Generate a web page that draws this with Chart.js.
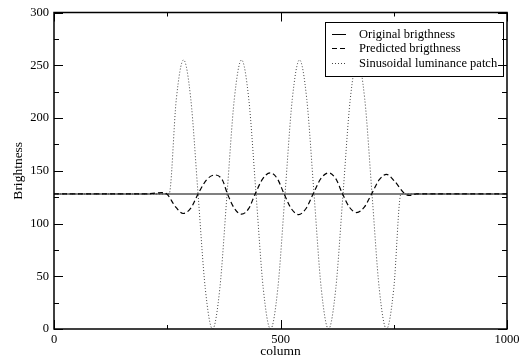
<!DOCTYPE html>
<html>
<head>
<meta charset="utf-8">
<script src="https://cdn.jsdelivr.net/npm/chart.js@4.4.0/dist/chart.umd.min.js"></script>
<style>
  html, body { margin: 0; padding: 0; background: #fff; }
  #wrap { width: 523px; height: 363px; }
</style>
</head>
<body>
<div id="wrap"><canvas id="myChart" width="523" height="363"></canvas></div>
<script>
// brightness along one image row
var origCols = [0, 1000];
var origVals = [128, 128];

var predCols = [0, 200, 225, 238, 249, 268, 285, 302, 318, 338, 356, 372, 383, 398, 414, 430, 444,
  461, 477, 493, 508, 524, 540, 556, 572, 589, 606, 622, 637, 652, 668, 685, 701, 718, 734, 752,
  775, 786, 800, 1000];
var predVals = [128, 128, 128.8, 129.3, 128, 116, 109.5, 114.5, 128, 142, 146, 141, 128, 114.5, 108.8, 114.3, 128,
  142.5, 148, 142.5, 128, 114, 108.5, 114, 128, 142.5, 148, 142.5, 128, 115.5, 110.4, 115.5, 128, 141.5, 146.6, 140,
  128, 126.6, 128, 128];

var patchCols = [0, 254, 270, 286, 302, 318, 334, 350, 366, 382, 398, 414, 430, 446, 462, 478, 494,
  510, 526, 542, 558, 574, 590, 606, 622, 638, 654, 670, 686, 702, 718, 734, 750, 766, 1000];
var patchVals = [128, 128, 217.8, 255, 217.8, 128, 38.2, 0, 38.2, 128, 217.8, 255, 217.8, 128, 38.2, 0, 38.2,
  128, 217.8, 255, 217.8, 128, 38.2, 0, 38.2, 128, 217.8, 255, 217.8, 128, 38.2, 0, 38.2, 128, 128];

var labels = ["Original brigthness", "Predicted brigthness", "Sinusoidal luminance patch"];

var serif = "'Liberation Serif', 'DejaVu Serif', serif";

function pts(xs, ys) {
  var out = [];
  for (var i = 0; i < xs.length; i++) out.push({ x: xs[i], y: ys[i] });
  return out;
}

// frame + inward ticks on all four sides
var frameTicks = {
  id: "frameTicks",
  afterDraw: function (chart) {
    var ctx = chart.ctx;
    var a = chart.chartArea;
    var xs = chart.scales.x, ys = chart.scales.y;
    ctx.save();
    ctx.strokeStyle = "#000";
    ctx.lineWidth = 1.5;
    ctx.strokeRect(a.left, a.top, a.right - a.left, a.bottom - a.top);
    ctx.lineWidth = 1;
    ctx.beginPath();
    for (var v = 0; v <= 1000; v += 250) {
      var len = v % 500 === 0 ? 9 : 4;
      var px = Math.round(xs.getPixelForValue(v)) + 0.5;
      ctx.moveTo(px, a.bottom); ctx.lineTo(px, a.bottom - len);
      ctx.moveTo(px, a.top); ctx.lineTo(px, a.top + len);
    }
    for (var w = 0; w <= 300; w += 25) {
      var l2 = w % 50 === 0 ? 9 : 5;
      var py = Math.round(ys.getPixelForValue(w)) + 0.5;
      ctx.moveTo(a.left, py); ctx.lineTo(a.left + l2, py);
      ctx.moveTo(a.right, py); ctx.lineTo(a.right - l2, py);
    }
    ctx.stroke();
    ctx.restore();
  }
};

// boxed legend in the upper right of the plot
var boxLegend = {
  id: "boxLegend",
  afterDatasetsDraw: function (chart) {
    var ctx = chart.ctx;
    var bx = 325, by = 22, bw = 178, bh = 54;
    ctx.save();
    ctx.fillStyle = "#fff";
    ctx.fillRect(bx, by, bw, bh);
    ctx.strokeStyle = "#000";
    ctx.lineWidth = 1;
    ctx.strokeRect(bx + 0.5, by + 0.5, bw, bh);
    ctx.font = "12.5px " + serif;
    ctx.textBaseline = "middle";
    chart.data.datasets.forEach(function (ds, i) {
      var y = Math.round(by + 11.5 + i * 14.5) + 0.5;
      ctx.beginPath();
      ctx.strokeStyle = ds.legendColor || ds.borderColor;
      ctx.lineWidth = 1;
      ctx.setLineDash(ds.borderDash || []);
      ctx.moveTo(332, y); ctx.lineTo(346, y);
      ctx.stroke();
      ctx.setLineDash([]);
      ctx.fillStyle = "#000";
      ctx.fillText(ds.label, 359, y);
    });
    ctx.restore();
  }
};

new Chart(document.getElementById("myChart").getContext("2d"), {
  type: "line",
  data: {
    datasets: [
      {
        label: labels[0],
        data: pts(origCols, origVals),
        borderColor: "#808080",
        legendColor: "#000",
        borderWidth: 2,
        order: 3
      },
      {
        label: labels[1],
        data: pts(predCols, predVals),
        borderColor: "#000",
        borderWidth: 1.2,
        borderDash: [5, 3],
        cubicInterpolationMode: "monotone",
        order: 1
      },
      {
        label: labels[2],
        data: pts(patchCols, patchVals),
        borderColor: "#444",
        borderWidth: 1,
        borderDash: [1, 2],
        cubicInterpolationMode: "monotone",
        order: 2
      }
    ]
  },
  options: {
    responsive: false,
    animation: false,
    events: [],
    elements: { point: { radius: 0 } },
    layout: { padding: { top: 12, right: 16, left: 0, bottom: 0 } },
    plugins: { legend: { display: false }, tooltip: { enabled: false } },
    scales: {
      x: {
        type: "linear",
        min: 0,
        max: 1000,
        grid: { display: false, drawTicks: false },
        border: { display: false },
        ticks: {
          stepSize: 500, padding: 3, color: "#000", font: { family: serif, size: 12.5 }, maxRotation: 0,
          callback: function (v) { return String(v); }
        },
        title: { display: true, text: "column", color: "#000", font: { family: serif, size: 13.5 }, padding: { top: 0, bottom: 3 } },
        afterFit: function (s) { s.height = 34; }
      },
      y: {
        min: 0,
        max: 300,
        grid: { display: false, drawTicks: false },
        border: { display: false },
        ticks: { stepSize: 50, padding: 5, color: "#000", font: { family: serif, size: 12.5 } },
        title: { display: true, text: "Brightness", color: "#000", font: { family: serif, size: 13.5 }, padding: { top: 10, bottom: 0 } },
        afterFit: function (s) { s.width = 54; }
      }
    }
  },
  plugins: [boxLegend, frameTicks]
});
</script>
</body>
</html>
